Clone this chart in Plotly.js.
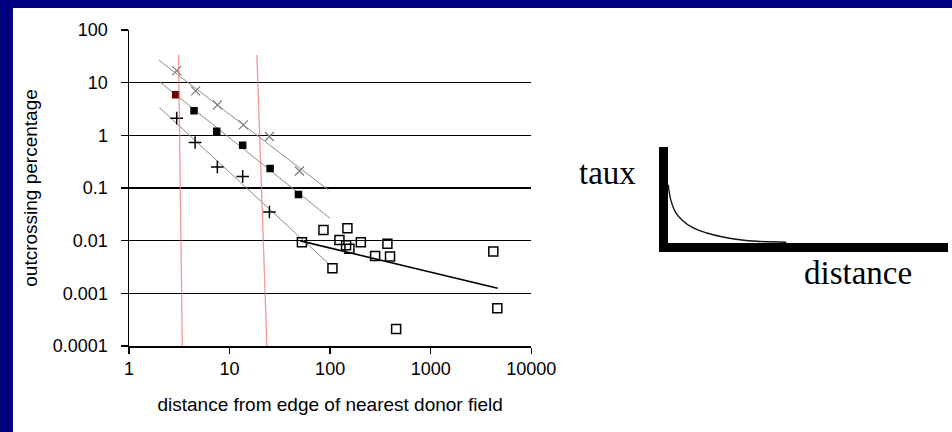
<!DOCTYPE html>
<html><head><meta charset="utf-8">
<script src="https://cdn.plot.ly/plotly-3.0.1.min.js"></script>
<style>html,body{margin:0;padding:0;background:#000080}</style>
</head><body><div id="chart" style="width:952px;height:432px"></div>
<script>
// tick labels
const xTickVals = [1, 10, 100, 1000, 10000];
const xTickText = ['1', '10', '100', '1000', '10000'];
const yTickVals = [0.0001, 0.001, 0.01, 0.1, 1, 10, 100];
const yTickText = ['0.0001', '0.001', '0.01', '0.1', '1', '10', '100'];

// series 1: grey crosses
const crossDist = [2.98, 4.6, 7.6, 13.7, 24.9, 49.5];
const crossPct = [16.9, 7.0, 3.8, 1.58, 0.95, 0.21];
const crossFitDist = [1.97, 96.2];
const crossFitPct = [26.9, 0.0917];

// series 2: filled squares
const squareDist = [2.91, 4.43, 7.45, 13.5, 25.3, 48.4];
const squarePct = [5.9, 2.92, 1.19, 0.645, 0.234, 0.075];
const squareFitDist = [2.01, 100];
const squareFitPct = [10.4, 0.0266];

// series 3: plus signs
const plusDist = [2.98, 4.54, 7.56, 13.5, 24.9];
const plusPct = [2.12, 0.73, 0.25, 0.166, 0.035];
const plusFitDist = [2.01, 96];
const plusFitPct = [3.35, 0.0037];

// series 4: open squares
const openDist = [52.4, 85.8, 105.4, 123.7, 148.5, 144, 155.5, 202, 280, 371, 394, 453, 4190, 4594];
const openPct = [0.0093, 0.016, 0.0030, 0.0103, 0.0172, 0.0082, 0.0070, 0.0093, 0.0051, 0.0087, 0.0050, 0.00021, 0.0062, 0.00052];
const openFitDist = [50.5, 4640];
const openFitPct = [0.0099, 0.00125];

// red marker lines
const red1Dist = [3.11, 3.39];
const red2Dist = [18.7, 23.5];
const redPct = [33.5, 0.0001];

// schematic curve (taux vs distance)
const schemDist = [0.3, 2.7, 7, 13.7, 25.3, 38.7, 55, 72, 88.7, 118.3];
const schemRate = [58.3, 43.3, 31.7, 23.3, 15, 10, 6, 3.3, 1.7, 0.7];

const fitLine = {color: '#8c8c8c', width: 1};
const traces = [
  {x: crossFitDist, y: crossFitPct, mode: 'lines', line: fitLine},
  {x: squareFitDist, y: squareFitPct, mode: 'lines', line: fitLine},
  {x: plusFitDist, y: plusFitPct, mode: 'lines', line: fitLine},
  {x: openFitDist, y: openFitPct, mode: 'lines', line: {color: '#000', width: 1.6}},
  {x: crossDist, y: crossPct, mode: 'markers',
   marker: {symbol: 'x-thin-open', size: 9, color: '#7a7a7a', line: {color: '#7a7a7a', width: 1.2}}},
  {x: squareDist, y: squarePct, mode: 'markers',
   marker: {symbol: 'square', size: 7.5, color: ['#6e0000', '#000', '#000', '#000', '#000', '#000']}},
  {x: plusDist, y: plusPct, mode: 'markers',
   marker: {symbol: 'cross-thin-open', size: 9, color: '#000', line: {color: '#000', width: 1.5}}},
  {x: openDist, y: openPct, mode: 'markers',
   marker: {symbol: 'square-open', size: 9, color: '#000', line: {color: '#000', width: 1.5}}},
  {x: red1Dist, y: redPct, mode: 'lines', line: {color: 'rgba(240,110,110,0.7)', width: 1.3}},
  {x: red2Dist, y: redPct, mode: 'lines', line: {color: 'rgba(240,110,110,0.7)', width: 1.3}},
  {x: schemDist, y: schemRate, xaxis: 'x2', yaxis: 'y2', mode: 'lines', line: {color: '#111', width: 1.4, shape: 'spline'}}
];

const tickFont = {family: '"Liberation Sans", Arial, sans-serif', size: 18, color: '#000'};
const titleFont = {family: '"Liberation Sans", Arial, sans-serif', size: 19, color: '#000'};
const layout = {
  width: 952, height: 432,
  margin: {l: 129, r: 0, t: 30, b: 86},
  paper_bgcolor: '#000080',
  plot_bgcolor: 'rgba(0,0,0,0)',
  showlegend: false,
  xaxis: {
    domain: [0, 0.4888], type: 'log', range: [0, 4], anchor: 'y',
    tickvals: xTickVals, ticktext: xTickText, tickfont: tickFont,
    showline: true, linecolor: '#000', linewidth: 1.5,
    ticks: 'outside', ticklen: 6, tickwidth: 1.5, tickcolor: '#000',
    showgrid: false, zeroline: false,
    title: {text: 'distance from edge of nearest donor field', standoff: 19, font: titleFont}
  },
  yaxis: {
    domain: [0, 1], type: 'log', range: [-4, 2], anchor: 'x',
    tickvals: yTickVals, ticktext: yTickText, tickfont: tickFont,
    ticklabelstandoff: 9,
    showline: true, linecolor: '#000', linewidth: 1.5,
    ticks: 'outside', ticklen: 7, tickwidth: 1.5, tickcolor: '#000',
    showgrid: true, gridcolor: '#000', gridwidth: 1.6, zeroline: false,
    title: {text: 'outcrossing percentage', standoff: 10, font: titleFont}
  },
  xaxis2: {
    domain: [0.6549, 0.9951], range: [0, 280], anchor: 'y2',
    showline: true, linecolor: '#000', linewidth: 9,
    showticklabels: false, ticks: '', showgrid: false, zeroline: false
  },
  yaxis2: {
    domain: [0.326, 0.6297], range: [0, 96], anchor: 'x2',
    showline: true, linecolor: '#000', linewidth: 9,
    showticklabels: false, ticks: '', showgrid: false, zeroline: false
  },
  shapes: [
    {type: 'rect', xref: 'paper', yref: 'paper', layer: 'below',
     x0: -0.141, x1: 1.05, y0: -0.35, y1: 1.0696,
     fillcolor: '#fff', line: {width: 0}}
  ],
  annotations: [
    {text: 'taux', xref: 'paper', yref: 'paper', x: 0.6186, y: 0.5475,
     xanchor: 'right', yanchor: 'middle', showarrow: false,
     font: {family: '"Liberation Serif", "Times New Roman", serif', size: 33, color: '#000'}},
    {text: 'distance', xref: 'paper', yref: 'paper', x: 0.8858, y: 0.2310,
     xanchor: 'center', yanchor: 'middle', showarrow: false,
     font: {family: '"Liberation Serif", "Times New Roman", serif', size: 33, color: '#000'}}
  ]
};

Plotly.newPlot('chart', traces, layout, {displayModeBar: false, staticPlot: true});
</script>
</body></html>
